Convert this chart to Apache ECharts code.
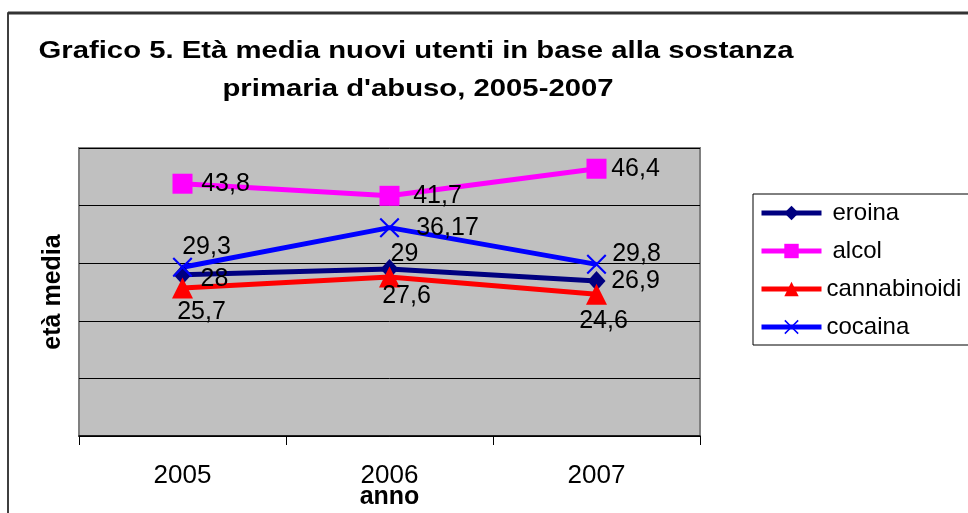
<!DOCTYPE html>
<html><head><meta charset="utf-8">
<script src="https://cdn.jsdelivr.net/npm/echarts@6/dist/echarts.min.js"></script>
<style>html,body{margin:0;padding:0;background:#fff}#c{width:968px;height:513px}</style>
</head><body><div id="c"></div>
<script>
const categories = ['2005', '2006', '2007'];
const eroina = [28, 29, 26.9];
const alcol = [43.8, 41.7, 46.4];
const cannabinoidi = [25.7, 27.6, 24.6];
const cocaina = [29.3, 36.17, 29.8];
const yTicks = [0, 10, 20, 30, 40, 50];
const titleLines = ['Grafico 5. Età media nuovi utenti in base alla sostanza', 'primaria d\'abuso, 2005-2007'];

const FONT = '"Liberation Sans", Arial, sans-serif';
const fmt = p => String(p.value).replace('.', ',');
const crossPath = 'path://M0,1.2L1.2,0L8,6.8L14.8,0L16,1.2L9.2,8L16,14.8L14.8,16L8,9.2L1.2,16L0,14.8L6.8,8Z';

function mk(name, data, color, symbol, size, offsets) {
  return {
    name, type: 'line',
    data: data.map((v, i) => ({
      value: v,
      label: {show: true, formatter: fmt, position: 'inside', align: 'center', verticalAlign: 'middle',
        offset: offsets[i], fontFamily: FONT, fontSize: 25, color: '#000'}
    })),
    symbol, symbolSize: size, showAllSymbol: true,
    lineStyle: {color, width: 5},
    itemStyle: {color},
    z: 3
  };
}

const chart = echarts.init(document.getElementById('c'));
chart.setOption({
  animation: false,
  backgroundColor: '#fff',
  graphic: [
    {type: 'rect', shape: {x: 8, y: 13, width: 1000, height: 600}, style: {fill: 'none', stroke: '#000', lineWidth: 1.5}, z: -1},
    {type: 'line', shape: {x1: 8, y1: 13, x2: 968, y2: 13}, style: {stroke: '#333', lineWidth: 3}},
    {type: 'text', x: 416, y: 51, scaleX: 1.22, style: {text: titleLines[0], font: 'bold 24px ' + FONT, align: 'center', verticalAlign: 'middle', fill: '#000'}},
    {type: 'text', x: 418, y: 89, scaleX: 1.22, style: {text: titleLines[1], font: 'bold 24px ' + FONT, align: 'center', verticalAlign: 'middle', fill: '#000'}}
  ],
  grid: {left: 79, top: 148, right: 268, bottom: 77, outerBoundsMode: 'none', containLabel: false,
    show: true, backgroundColor: '#c0c0c0', borderColor: '#808080', borderWidth: 2},
  legend: {
    left: 753, top: 194, orient: 'vertical',
    itemWidth: 60, itemHeight: 18, itemGap: 14,
    padding: [7, 40, 6, 6],
    borderColor: '#000', borderWidth: 1,
    lineStyle: {width: 5},
    textStyle: {fontFamily: FONT, fontSize: 24, color: '#000'},
    data: [
      {name: 'eroina', textStyle: {padding: [0, 0, 0, 6]}},
      {name: 'alcol', textStyle: {padding: [0, 0, 0, 6]}},
      {name: 'cannabinoidi'},
      {name: 'cocaina'}
    ]
  },
  xAxis: {
    type: 'category', data: categories, boundaryGap: true,
    name: 'anno', nameLocation: 'middle', nameGap: 49, nameMoveOverlap: false,
    nameTextStyle: {fontFamily: FONT, fontWeight: 'bold', fontSize: 25, color: '#000'},
    axisLine: {lineStyle: {color: '#000', width: 1.5}},
    axisTick: {show: true, length: 9, lineStyle: {color: '#000'}},
    axisLabel: {margin: 27, fontFamily: FONT, fontSize: 26, color: '#000'}
  },
  yAxis: {
    type: 'value', min: yTicks[0], max: yTicks[yTicks.length - 1], interval: 10,
    name: 'età media', nameLocation: 'middle', nameGap: 13, nameRotate: 90, nameMoveOverlap: false,
    nameTextStyle: {fontFamily: FONT, fontWeight: 'bold', fontSize: 25, color: '#000'},
    axisLine: {show: false}, axisTick: {show: false}, axisLabel: {show: false},
    splitLine: {lineStyle: {color: '#000', width: 1}}
  },
  series: [
    mk('eroina', eroina, '#000080', 'diamond', [18, 20], [[32, 4], [15, -15], [39, 0]]),
    mk('alcol', alcol, '#ff00ff', 'rect', 20, [[43, 0], [48, 0], [39, 0]]),
    mk('cannabinoidi', cannabinoidi, '#ff0000', 'triangle', 21, [[19, 24], [17, 19], [7, 27]]),
    mk('cocaina', cocaina, '#0000ff', crossPath, 20, [[24, -20], [58, 0], [40, -10]])
  ]
});
</script>
</body></html>
